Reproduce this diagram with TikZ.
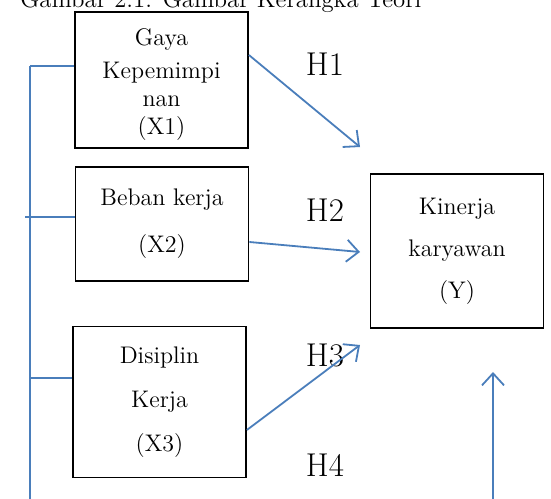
\documentclass[tikz,border=0pt]{standalone}
\usepackage{tikz}
\usetikzlibrary{arrows.meta}

\definecolor{lineblue}{RGB}{74,126,187}

\tikzset{
	varbox/.style = {draw, line width=0.9pt, minimum width=86.5pt, align=center,
		font=\fontsize{12}{14}\selectfont},
	hlabel/.style = {font=\fontsize{16.5}{18}\selectfont},
	link/.style = {draw=lineblue, line width=0.9pt},
	hyp/.style = {link, -{Straight Barb[length=6pt,width=11pt,line width=0.9pt]}}
}

\begin{document}
\begin{tikzpicture}[x=0.5pt,y=-0.5pt]
	\useasboundingbox (0,0) rectangle (551,498);
	\clip (0,0) rectangle (551,498);
	% caption, cut at the top
	\node[anchor=base west, inner sep=0pt, font=\fontsize{12.4}{14}\selectfont] (cap) at (20,7) {Gambar 2.1. Gambar Kerangka Teori};
	% variables
	\node[varbox, minimum height=68pt] (x1) at (161.5,80) {\rule{0pt}{13pt}Gaya\\[2.5pt]Kepemimpi\\nan\\(X1)};
	\node[varbox, minimum height=57pt] (x2) at (162,224) {Beban kerja\\[9.5pt](X2)};
	\node[varbox, minimum height=75.5pt] (x3) at (159.5,402) {Disiplin\\[8pt]Kerja\\[8pt](X3)};
	\node[varbox, minimum height=77pt] (y) at (457,251) {Kinerja\\[7pt]karyawan\\[7pt](Y)};
	\node[hlabel] (h1) at (325,64) {H1};
	\node[hlabel] (h2) at (325,210) {H2};
	\node[hlabel] (h3) at (325,355) {H3};
	\node[hlabel] (h4) at (325,465) {H4};
	% free ends
	\coordinate (top) at (30,66);
	\coordinate (bot) at (30,505);
	\coordinate (t1) at (360,147);
	\coordinate (t2) at (360,252);
	\coordinate (t3) at (360,345);
	\coordinate (t4) at (493,372);
	\coordinate (b4) at (493,505);
	% left bracket
	\draw[link] (top) -- (bot);
	\draw[link] (x1.west |- top) -- (top);
	\draw[link] (x2.west |- 0,217) -- (25,217);
	\draw[link] (x3.west |- 0,378) -- (30,378);
	% hypotheses
	\draw[hyp] (x1.east |- 0,55) -- (t1);
	\draw[hyp] (x2.east |- 0,242) -- (t2);
	\draw[hyp] (x3.east |- 0,430) -- (t3);
	\draw[hyp] (b4) -- (t4);
\end{tikzpicture}
\end{document}
